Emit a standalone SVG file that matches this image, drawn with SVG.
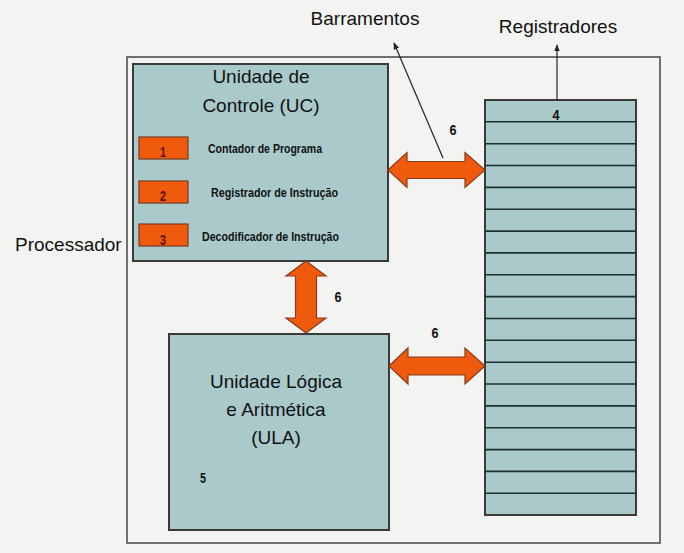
<svg xmlns="http://www.w3.org/2000/svg" width="684" height="553" viewBox="0 0 684 553">
<defs>
<marker id="ah" viewBox="0 0 10 10" refX="9" refY="5" markerWidth="7" markerHeight="7" orient="auto" markerUnits="userSpaceOnUse">
<path d="M0,1 L10,5 L0,9 Z" fill="#222"/>
</marker>
</defs>
<style>
.bg{fill:#f3f3f1}
.frame{fill:none;stroke:#444;stroke-width:1.5}
.box{fill:#a9c9ca;stroke:#3a3a3a;stroke-width:2}
.big{font-family:"Liberation Sans",Arial,sans-serif;font-size:19px;fill:#111}
.sm{font-family:"Liberation Sans",Arial,sans-serif;font-weight:bold;font-size:12px;fill:#111}
.num{font-family:"Liberation Sans",Arial,sans-serif;font-weight:bold;font-size:14px;fill:#111}
.onum{font-family:"Liberation Sans",Arial,sans-serif;font-weight:bold;font-size:14px;fill:#5a1200}
.obox{fill:#ef5a0c;stroke:#7a3a22;stroke-width:1.2}
.bus{fill:#ef5a0c;stroke:#8a3a1e;stroke-width:1.2}
.reg line{stroke:#1e2e30;stroke-width:1.6}
.lead{stroke:#222;stroke-width:1.2;fill:none}
</style>
<rect class="bg" x="0" y="0" width="684" height="553"/>
<g id="processador">
<rect class="frame" x="127" y="57" width="533" height="486"/>
<text class="big" x="15" y="251">Processador</text>
</g>
<g id="uc">
<rect class="box" x="133" y="64" width="255" height="197"/>
<text class="big" x="261" y="83" text-anchor="middle">Unidade de</text>
<text class="big" x="261" y="112" text-anchor="middle">Controle (UC)</text>
</g>
<g id="pc">
<rect class="obox" x="139" y="137" width="49" height="22"/>
<text class="onum" x="163" y="157" text-anchor="middle" textLength="6" lengthAdjust="spacingAndGlyphs">1</text>
<text class="sm" x="208" y="153" textLength="114" lengthAdjust="spacingAndGlyphs">Contador de Programa</text>
</g>
<g id="ri">
<rect class="obox" x="139" y="181" width="49" height="22"/>
<text class="onum" x="163" y="201" text-anchor="middle" textLength="6" lengthAdjust="spacingAndGlyphs">2</text>
<text class="sm" x="211" y="197" textLength="127" lengthAdjust="spacingAndGlyphs">Registrador de Instrução</text>
</g>
<g id="di">
<rect class="obox" x="139" y="224" width="49" height="22"/>
<text class="onum" x="163" y="245" text-anchor="middle" textLength="6" lengthAdjust="spacingAndGlyphs">3</text>
<text class="sm" x="202" y="241" textLength="137" lengthAdjust="spacingAndGlyphs">Decodificador de Instrução</text>
</g>
<g id="ula">
<rect class="box" x="169" y="334" width="220" height="196"/>
<text class="big" x="276" y="388" text-anchor="middle">Unidade Lógica</text>
<text class="big" x="276" y="416" text-anchor="middle">e Aritmética</text>
<text class="big" x="276" y="444" text-anchor="middle">(ULA)</text>
<text class="num" x="203" y="483" text-anchor="middle" textLength="6" lengthAdjust="spacingAndGlyphs">5</text>
</g>
<g id="registradores" class="reg">
<rect class="box" x="485" y="100" width="151" height="415"/>
<line x1="485" y1="121.8" x2="636" y2="121.8"/>
<line x1="485" y1="143.7" x2="636" y2="143.7"/>
<line x1="485" y1="165.5" x2="636" y2="165.5"/>
<line x1="485" y1="187.4" x2="636" y2="187.4"/>
<line x1="485" y1="209.2" x2="636" y2="209.2"/>
<line x1="485" y1="231.1" x2="636" y2="231.1"/>
<line x1="485" y1="252.9" x2="636" y2="252.9"/>
<line x1="485" y1="274.8" x2="636" y2="274.8"/>
<line x1="485" y1="296.6" x2="636" y2="296.6"/>
<line x1="485" y1="318.5" x2="636" y2="318.5"/>
<line x1="485" y1="340.3" x2="636" y2="340.3"/>
<line x1="485" y1="362.2" x2="636" y2="362.2"/>
<line x1="485" y1="384" x2="636" y2="384"/>
<line x1="485" y1="405.9" x2="636" y2="405.9"/>
<line x1="485" y1="427.7" x2="636" y2="427.7"/>
<line x1="485" y1="449.6" x2="636" y2="449.6"/>
<line x1="485" y1="471.4" x2="636" y2="471.4"/>
<line x1="485" y1="493.3" x2="636" y2="493.3"/>
<text class="num" x="556" y="120" text-anchor="middle" textLength="7" lengthAdjust="spacingAndGlyphs">4</text>
</g>
<g id="connectors">
<polygon class="bus" points="388,170 407,152.5 407,161.5 465,161.5 465,152.5 485,170 465,187.5 465,178.5 407,178.5 407,187.5"/>
<polygon class="bus" points="389,366 408,348 408,357 465,357 465,348 485,366 465,384 465,375 408,375 408,384"/>
<polygon class="bus" points="306,261 326,276 316.5,276 316.5,318 326,318 306,333 286,318 295.5,318 295.5,276 286,276"/>
<text class="num" x="453" y="135" text-anchor="middle" textLength="7" lengthAdjust="spacingAndGlyphs">6</text>
<text class="num" x="338" y="302" text-anchor="middle" textLength="7" lengthAdjust="spacingAndGlyphs">6</text>
<text class="num" x="435" y="338" text-anchor="middle" textLength="7" lengthAdjust="spacingAndGlyphs">6</text>
<line class="lead" x1="443" y1="158" x2="394" y2="43" marker-end="url(#ah)"/>
<line class="lead" x1="557" y1="100" x2="557" y2="45" marker-end="url(#ah)"/>
<text class="big" x="365" y="25" text-anchor="middle">Barramentos</text>
<text class="big" x="558" y="33" text-anchor="middle">Registradores</text>
</g>
</svg>
